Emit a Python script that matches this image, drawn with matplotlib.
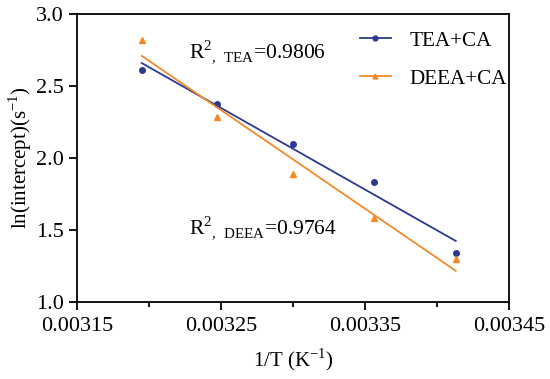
import numpy as np
import matplotlib
matplotlib.use("Agg")
import matplotlib.pyplot as plt
from matplotlib.lines import Line2D
from matplotlib.ticker import MultipleLocator

plt.rcParams['font.family'] = ['Liberation Serif', 'DejaVu Serif']
plt.rcParams['mathtext.fontset'] = 'custom'
plt.rcParams['mathtext.rm'] = 'Liberation Serif'

# 1/T for 313, 308, 303, 298, 293 K
inv_T = [0.003195, 0.003247, 0.003300, 0.003356, 0.003413]
tea = [2.61, 2.375, 2.10, 1.835, 1.34]
deea = [2.82, 2.285, 1.89, 1.583, 1.30]

blue = "#2B3990"
orange = "#F28A2A"

fig = plt.figure(figsize=(5.5, 3.79), dpi=100)
ax = fig.add_axes([0.14, 0.203, 0.7855, 0.76])

x = np.array(inv_T)
for y, c, m, ms in [(tea, blue, "o", 4), (deea, orange, "^", 4.2)]:
    ax.plot(x, y, linestyle="none", marker=m, color=c, markersize=ms)
    k, b = np.polyfit(x, y, 1)
    ax.plot(x[[0, -1]], k * x[[0, -1]] + b, color=c, lw=1.3)

ax.set_xlim(0.00315, 0.00345)
ax.set_ylim(1.0, 3.0)
ax.set_xticks([0.00315, 0.00325, 0.00335, 0.00345])
ax.set_xticklabels(["0.00315", "0.00325", "0.00335", "0.00345"])
ax.xaxis.set_minor_locator(MultipleLocator(0.00005))
ax.set_yticks([1.0, 1.5, 2.0, 2.5, 3.0])
ax.set_yticklabels(["1.0", "1.5", "2.0", "2.5", "3.0"])

ax.tick_params(which="major", direction="out", length=6, width=1.3, labelsize=16)
ax.tick_params(axis="x", which="major", pad=5)
ax.tick_params(which="minor", direction="out", length=3.5, width=1.3)
for s in ax.spines.values():
    s.set_linewidth(1.3)

ax.set_xlabel("1/T (K$^{-1}$)", fontsize=15, va="center")
ax.set_ylabel("ln(intercept)(s$^{-1}$)", fontsize=15, va="center")
ax.xaxis.set_label_coords(0.5, -0.201)
ax.yaxis.set_label_coords(-0.132, 0.5)

ax.text(0.003228, 2.736, "R$^{2}$$_{,\\ \\mathrm{TEA}}$=0.9806", fontsize=15.5, va="center")
ax.text(0.003228, 1.514, "R$^{2}$$_{,\\ \\mathrm{DEEA}}$=0.9764", fontsize=15.5, va="center")

handles = [
    Line2D([], [], color=blue, marker="o", markersize=3.5, lw=1.3),
    Line2D([], [], color=orange, marker="^", markersize=3.5, lw=1.3),
]
ax.legend(handles, ["TEA+CA", "DEEA+CA"], loc="upper right", frameon=False,
          fontsize=15.2, handlelength=1.45, handletextpad=0.9,
          labelspacing=0.85, borderpad=0, borderaxespad=0,
          bbox_to_anchor=(507 / 550, 1 - 31 / 379), bbox_transform=fig.transFigure)

fig.savefig("out.png", dpi=100)
